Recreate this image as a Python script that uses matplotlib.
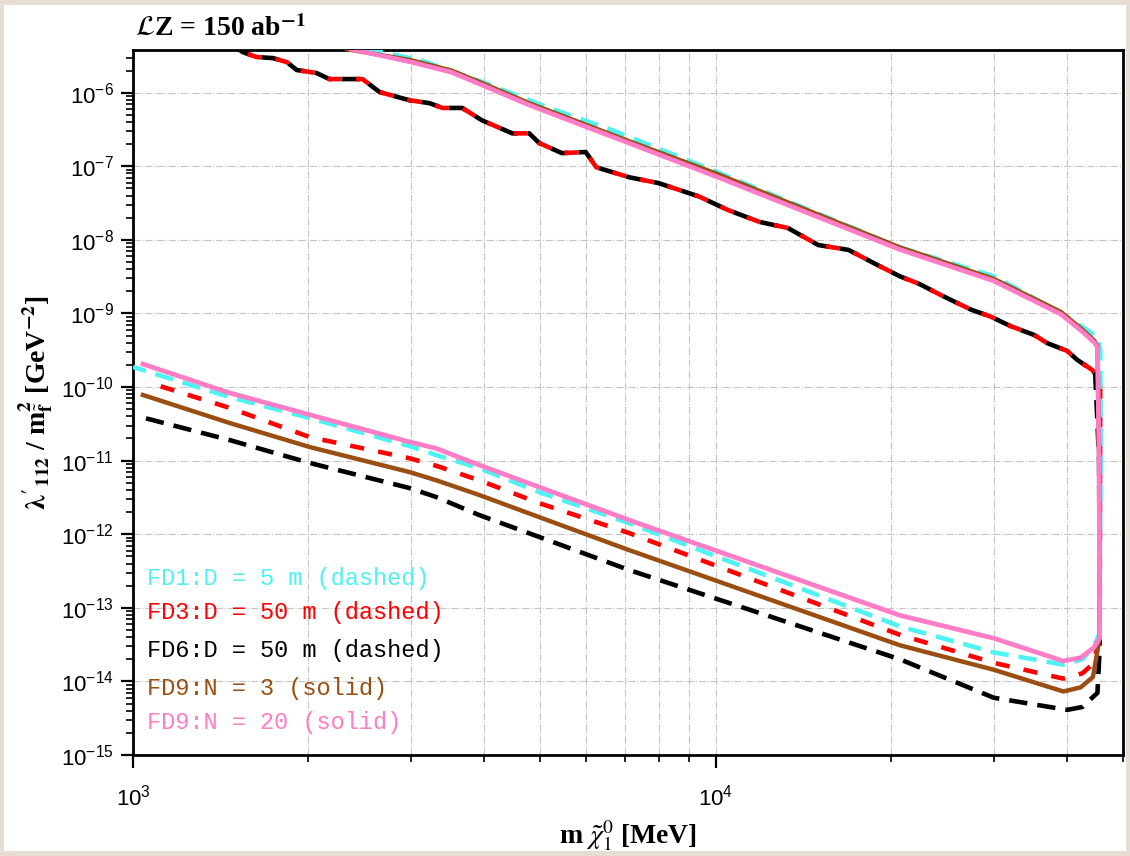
import matplotlib
matplotlib.use('Agg')
import matplotlib.pyplot as plt
from matplotlib.patches import Rectangle
from matplotlib.ticker import LogLocator, NullFormatter

plt.rcParams['font.family'] = ['Liberation Sans', 'DejaVu Sans']
plt.rcParams['mathtext.fontset'] = 'stix'

# closed contours: upper branch left->right, vertical edge, lower branch right->left
fd1_x = [2500, 3141, 3972, 5176, 6637, 10000, 20700, 30000, 39100, 45200, 45700, 45800,
         45500, 44600, 42600, 39500, 30000, 20700, 7096, 4975, 3929, 3316, 2980, 2010, 1466, 1000]
fd1_y = [4.0e-6, 2.7e-6, 1.4e-6, 6.2e-7, 3.1e-7, 8.5e-8, 7.9e-9, 3.2e-9, 1.02e-9, 4.8e-10, 3.1e-10, 1.0e-11,
         4.3e-14, 3.1e-14, 2.0e-14, 1.69e-14, 2.48e-14, 5.6e-14, 1.42e-12, 3.74e-12, 7.9e-12, 1.19e-11,
         1.58e-11, 3.79e-11, 7.3e-11, 1.87e-10]

upper_x = [1500, 1542, 1629, 1738, 1837, 1910, 2065, 2173, 2477, 2649, 2979, 3228, 3396, 3673, 3972,
           4477, 4786, 4977, 5445, 5984, 6237, 7096, 7980, 9350, 10500, 11900, 13300, 15000, 16900,
           19000, 20700, 22400, 24300, 27400, 29600, 32100, 35200, 37100, 40100, 41700, 44300]
upper_y = [4.2e-6, 3.56e-6, 3.05e-6, 2.95e-6, 2.6e-6, 2.03e-6, 1.85e-6, 1.53e-6, 1.53e-6, 1.02e-6, 7.9e-7,
           7.2e-7, 6.2e-7, 6.2e-7, 4.2e-7, 2.8e-7, 2.8e-7, 2.07e-7, 1.51e-7, 1.56e-7, 9.7e-8, 7.1e-8,
           5.9e-8, 3.9e-8, 2.54e-8, 1.75e-8, 1.45e-8, 8.5e-9, 7.3e-9, 4.5e-9, 3.2e-9, 2.5e-9, 1.79e-9,
           1.13e-9, 9.1e-10, 6.7e-10, 5.1e-10, 3.94e-10, 3.1e-10, 2.35e-10, 1.7e-10]

fd3_x = upper_x + [45700, 45600, 44600, 42600, 39500, 30000, 20700, 7096, 4975, 3929, 3316, 2979,
                   2010, 1466, 1057]
fd3_y = upper_y + [1.15e-10, 4.3e-14, 1.79e-14, 1.29e-14, 1.09e-14, 1.79e-14, 4.3e-14, 1.04e-12,
                   2.65e-12, 5.4e-12, 8.5e-12, 1.08e-11, 2.09e-11, 5.2e-11, 1.17e-10]

fd6_x = upper_x + [44800, 45500, 45600, 45200, 42600, 40100, 30000, 20700, 7096, 4975, 3929, 3316,
                   2979, 2010, 1466, 1016]
fd6_y = upper_y + [1.5e-10, 1.0e-11, 2.8e-14, 7.0e-15, 4.5e-15, 4.1e-15, 6.0e-15, 2.0e-14, 3.27e-13,
                   9.2e-13, 1.82e-12, 3.2e-12, 4.25e-12, 9.3e-12, 1.9e-11, 4.04e-11]

fd9n3_x = [2330, 3006, 3518, 3972, 4784, 7092, 10000, 20700, 30000, 39100, 42600, 44600, 45200, 45500,
           45600, 44400, 42300, 39500, 30000, 20700, 7096, 4975, 3929, 3316, 2980, 2010, 1466, 1040]
fd9n3_y = [3.9e-6, 2.75e-6, 2.0e-6, 1.35e-6, 7.2e-7, 2.2e-7, 8.0e-8, 7.9e-9, 2.95e-9, 1.05e-9, 6.0e-10,
           4.3e-10, 3.6e-10, 1.0e-11, 3.9e-14, 1.15e-14, 8.3e-15, 7.3e-15, 1.44e-14, 3.1e-14, 6.1e-13,
           1.71e-12, 3.41e-12, 5.4e-12, 7.0e-12, 1.53e-11, 3.24e-11, 7.8e-11]

fd9n20_x = [2371, 3006, 3518, 3972, 4784, 7092, 10000, 20700, 30000, 39100, 42600, 44600, 45200, 45500,
            45600, 44600, 42300, 39500, 30000, 20700, 7096, 4975, 3929, 3311, 2980, 1466, 1040]
fd9n20_y = [3.9e-6, 2.6e-6, 1.9e-6, 1.27e-6, 6.8e-7, 2.07e-7, 7.3e-8, 7.4e-9, 2.77e-9, 9.8e-10, 5.65e-10,
            4.07e-10, 3.45e-10, 1.03e-11, 3.9e-14, 2.9e-14, 2.1e-14, 1.89e-14, 3.86e-14, 7.9e-14, 1.56e-12,
            4.38e-12, 8.7e-12, 1.47e-11, 1.8e-11, 8.3e-11, 2.05e-10]

legend_labels = ['FD1:D = 5 m (dashed)', 'FD3:D = 50 m (dashed)', 'FD6:D = 50 m (dashed)',
                 'FD9:N = 3 (solid)', 'FD9:N = 20 (solid)']
cyan, red, black, brown, pink = '#4ff2f2', '#ff0000', '#000000', '#9a4e12', '#ff7cc6'
legend_colors = [cyan, red, black, brown, pink]

fig = plt.figure(figsize=(11.3, 8.56), dpi=100)
fig.patch.set_facecolor('#e6ded3')
fig.patches.append(Rectangle((4 / 1130, 5 / 856), 1122 / 1130, 846 / 856, transform=fig.transFigure,
                             facecolor='white', edgecolor='none', zorder=-5))

ax = fig.add_axes([133 / 1130, 1 - 755 / 856, 990 / 1130, 705 / 856])
ax.set_xscale('log')
ax.set_yscale('log')

# black and red share the upper branch: offset dashes so they alternate there
ax.plot(fd6_x, fd6_y, color=black, lw=3.3, ls=(0, (4, 2.2)), zorder=3)
ax.plot(fd3_x, fd3_y, color=red, lw=3.3, ls=(3.1, (3.1, 3.1)), zorder=4)
ax.plot(fd1_x, fd1_y, color=cyan, lw=3.3, ls=(0, (4, 2.2)), zorder=5)
ax.plot(fd9n3_x, fd9n3_y, color=brown, lw=3.2, zorder=6)
ax.plot(fd9n20_x, fd9n20_y, color=pink, lw=3.4, zorder=7)

ax.set_xlim(1000, 50000)
ax.set_ylim(1e-15, 3.8e-6)

ax.yaxis.set_major_locator(LogLocator(base=10, numticks=15))
ax.yaxis.set_minor_locator(LogLocator(base=10, subs=range(2, 10), numticks=15))
ax.yaxis.set_minor_formatter(NullFormatter())
ax.xaxis.set_minor_formatter(NullFormatter())

ax.grid(True, which='major', color='#c4c4c4', ls='-.', lw=0.8)
ax.grid(True, which='minor', axis='x', color='#c4c4c4', ls='-.', lw=0.8)

ax.tick_params(which='major', direction='out', length=9, width=1.6, labelsize=16, pad=5)
ax.tick_params(which='minor', direction='out', length=5, width=1.2)
ax.tick_params(axis='x', which='major', pad=12)
for s in ax.spines.values():
    s.set_linewidth(2)

ax.set_xlabel(r'm $\tilde{\chi}_1^0$ [MeV]', family='Liberation Serif', fontweight='bold',
              fontsize=20, labelpad=6)
ax.set_ylabel(r"$\mathbf{\lambda'_{112}}$ / m$_{\tilde{\mathbf{f}}}^{\mathbf{2}}$ [GeV$^{\mathbf{-2}}$]",
              family='Liberation Serif', fontweight='bold', fontsize=20, labelpad=4)

fig.text(135 / 1130, 1 - 29 / 856, r'$\mathcal{L}$Z = 150 ab$^{\mathbf{-1}}$', family='Liberation Serif',
         fontweight='bold', fontsize=20, va='center', ha='left')

ys = [578, 613, 651, 688, 723]
for lab, col, py in zip(legend_labels, legend_colors, ys):
    fig.text(147 / 1130, 1 - py / 856, lab, color=col, family='Liberation Mono', fontsize=17,
             va='center', ha='left')

fig.savefig('out.png', dpi=100, facecolor=fig.get_facecolor())
